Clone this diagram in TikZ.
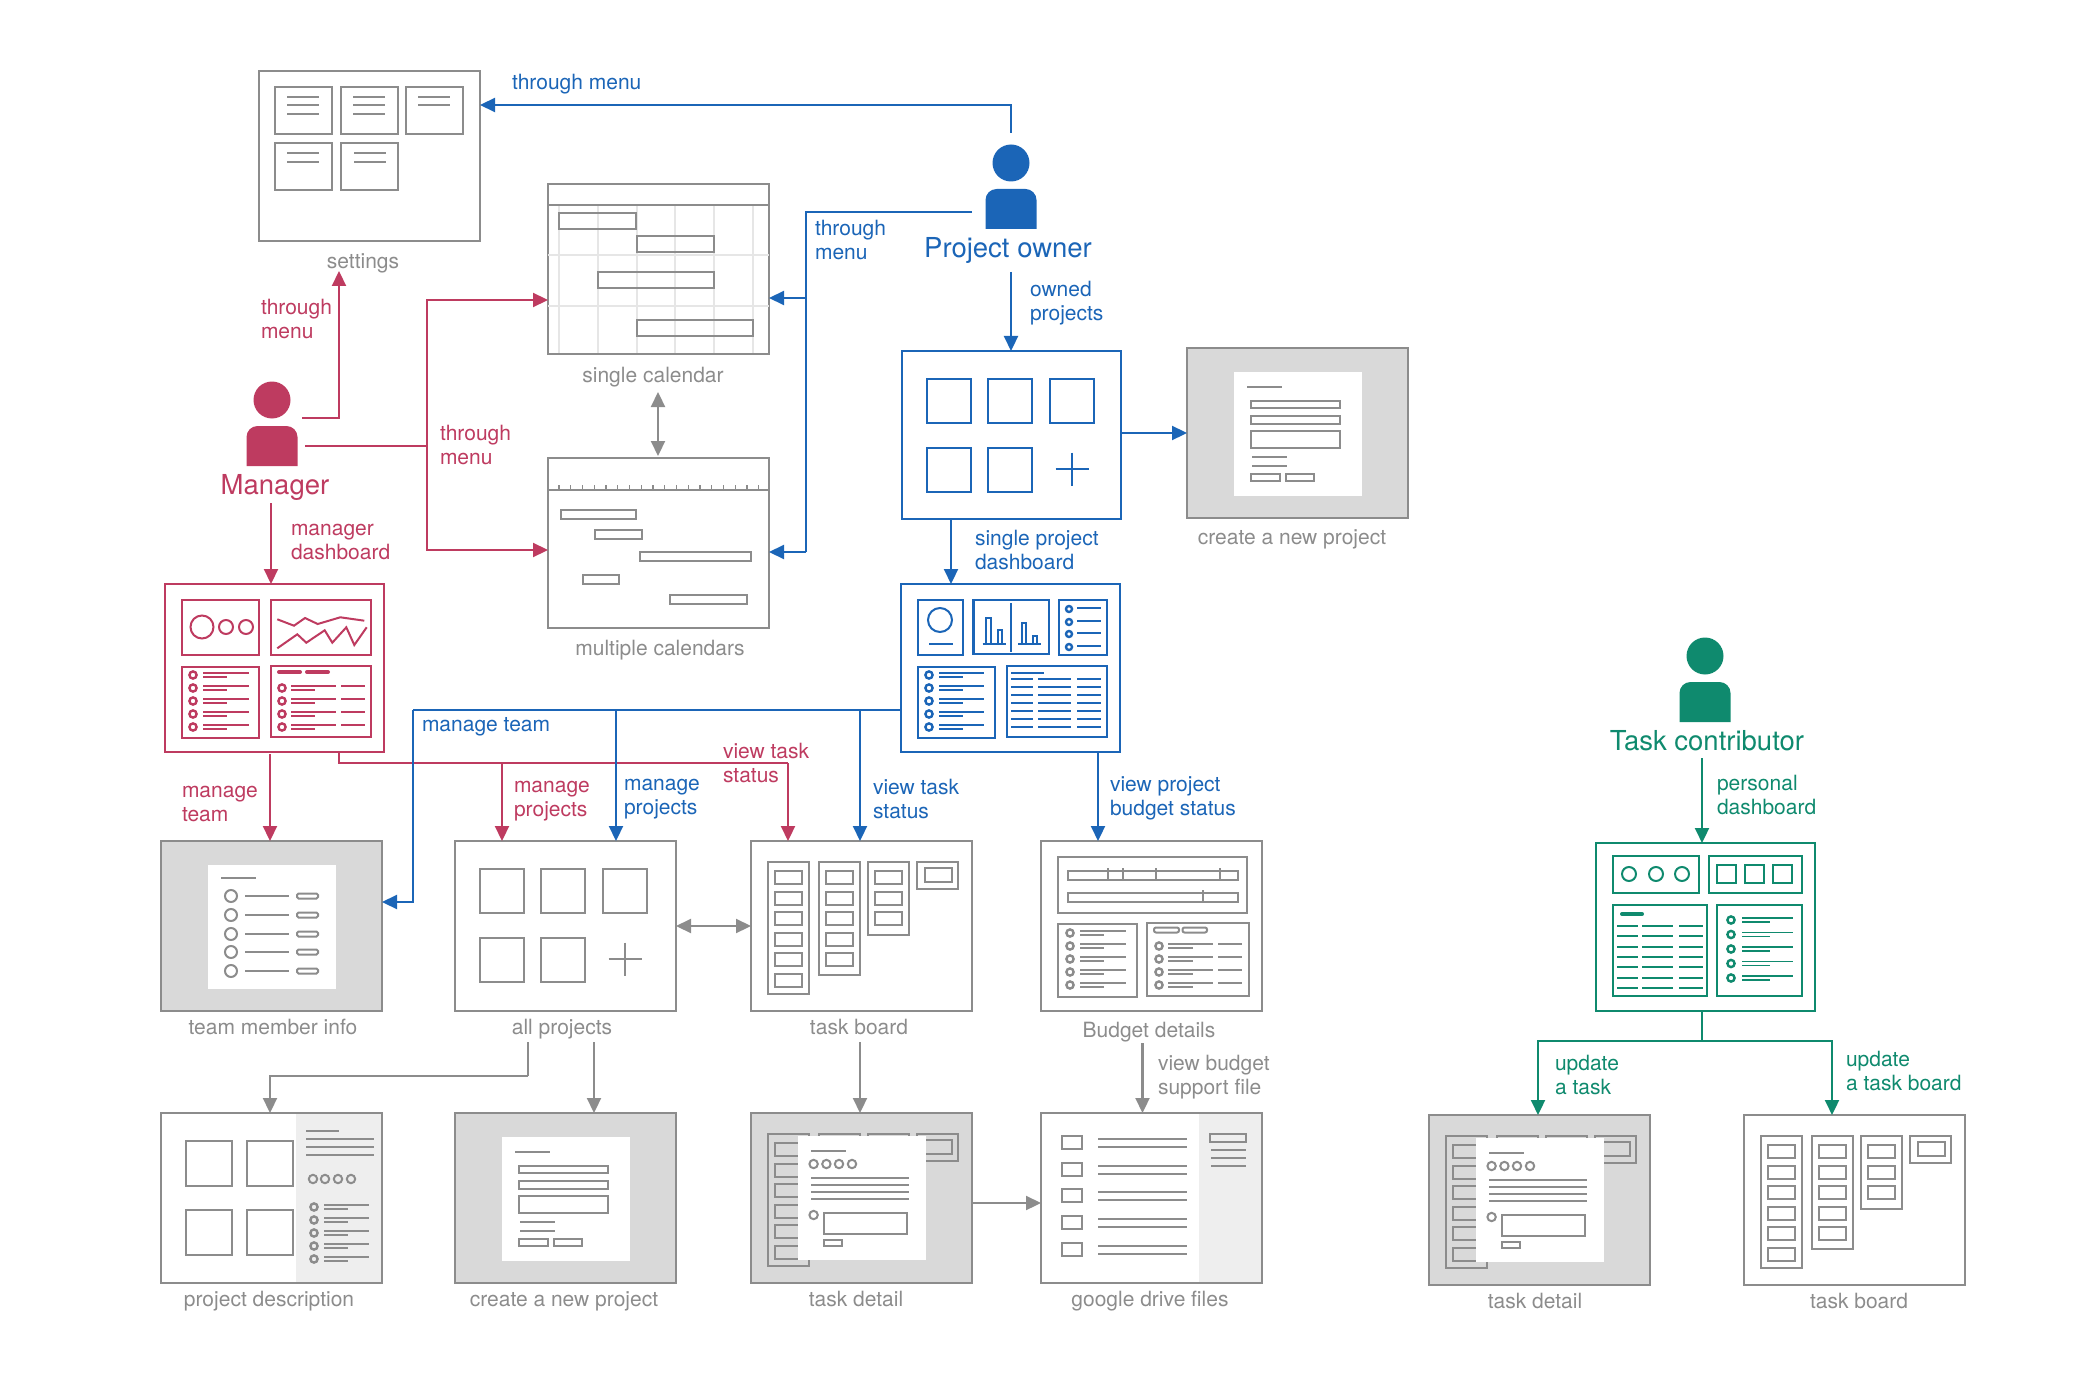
\documentclass[tikz,border=0pt]{standalone}
\usepackage{fontspec}
\setmainfont{TeX Gyre Heros}
\usetikzlibrary{arrows.meta}
\definecolor{wiregrey}{HTML}{8C8C8C}
\definecolor{panelgrey}{HTML}{D9D9D9}
\definecolor{panepale}{HTML}{EEEEEE}
\definecolor{gridgrey}{HTML}{E6E6E6}
\definecolor{mgrred}{HTML}{BE3B60}
\definecolor{ownblue}{HTML}{1B65B7}
\definecolor{congreen}{HTML}{0F8A6E}
\tikzstyle{flow}=[-{Triangle[length=15pt,width=14pt]}]
\tikzstyle{twoway}=[{Triangle[length=15pt,width=14pt]}-{Triangle[length=15pt,width=14pt]}]
\tikzstyle{mgr}=[color=mgrred,line width=2.2pt]
\tikzstyle{own}=[color=ownblue,line width=2.2pt]
\tikzstyle{con}=[color=congreen,line width=2.2pt]
\tikzstyle{wire}=[color=wiregrey,line width=2.2pt]
\tikzstyle{screen}=[draw=wiregrey,line width=2.5pt,minimum width=221pt,minimum height=170pt,inner sep=0,outer sep=0,anchor=north west]
\tikzstyle{board}=[screen,minimum width=219pt,minimum height=168pt]
\tikzstyle{caption}=[inner sep=0,anchor=base,text=wiregrey,font=\fontsize{21}{24}\selectfont]
\tikzstyle{note}=[inner sep=0,anchor=base west,align=left,font=\fontsize{21}{24}\selectfont]
\tikzstyle{role}=[inner sep=0,anchor=base,font=\fontsize{27.5}{30}\selectfont]
\newcommand{\dotrows}[5]{\foreach \r in {#2}{
\draw[line width=2.4pt] (#1,\r) circle (3.6);
\draw[line width=1.7pt] (#3,\r-2) -- (#4,\r-2);
\draw[line width=1.7pt] (#3,\r+2) -- (#5,\r+2);}}
\newcommand{\personicon}[2]{
\fill (#1,#2) circle (18.5);
\fill (#1-25.5,#2+66) [rounded corners=11pt] -- (#1-25.5,#2+26) -- (#1+25.5,#2+26) [sharp corners] -- (#1+25.5,#2+66) -- cycle;}
\newcommand{\cardgrid}[2]{\begin{scope}[shift={(#1,#2)}]
\foreach \x/\y in {25/28,86/28,148/28,25/97,86/97}
\draw (\x,\y) rectangle +(44,44);
\draw[line width=1.6pt] (153.5,118) -- (186.5,118);
\draw[line width=1.6pt] (170,101.5) -- (170,134.5);
\end{scope}}
\newcommand{\formsheet}[2]{\begin{scope}[shift={(#1,#2)}]
\fill[white] (47,24) rectangle +(128,124);
\draw (60,39) -- (95,39);
\draw (64,53) rectangle (153,60);
\draw (64,68) rectangle (153,76);
\draw (64,83) rectangle (153,100);
\draw (65,109) -- (100,109);
\draw (65,118) -- (100,118);
\draw (64,126) rectangle (93,133);
\draw (99,126) rectangle (127,133);
\end{scope}}
\newcommand{\boardicon}[2]{\begin{scope}[shift={(#1,#2)}]
\draw (17,21) rectangle (58,153);
\draw (68,21) rectangle (109,134);
\draw (117,21) rectangle (158,94);
\draw (166,21) rectangle (207,48);
\foreach \r in {0,...,5} \draw (24,{30+20.5*\r}) rectangle +(27,13);
\foreach \r in {0,...,4} \draw (75,{30+20.5*\r}) rectangle +(27,13);
\foreach \r in {0,1,2} \draw (124,{30+20.5*\r}) rectangle +(27,13);
\draw (174,27) rectangle +(27,14);
\end{scope}}
\newcommand{\detailsheet}[2]{\begin{scope}[shift={(#1,#2)}]
\fill[white] (47,23) rectangle +(128,124);
\draw (60,38) -- (95,38);
\foreach \x in {62.6,75.4,88,101} \draw (\x,51) circle (4.2);
\foreach \y in {65,72,79,86} \draw (60,\y) -- (158,\y);
\draw (62.6,102) circle (4.2);
\draw (72.6,100) rectangle (156,121);
\draw (72.6,127) rectangle (91,133);
\end{scope}}
\begin{document}
\begin{tikzpicture}[x=1pt,y=-1pt,line width=2pt]
\useasboundingbox (0,0) rectangle (2082,1396);
\fill[panepale] (296,1113) rectangle (382,1283);
\fill[panepale] (1199,1113) rectangle (1262,1283);
\node (settings) at (259,71)[screen]{};
\node (singlecal) at (548,184)[screen]{};
\node (multical) at (548,458)[screen]{};
\node (newtop) at (1187,348)[screen,fill=panelgrey]{};
\node (memberinfo) at (161,841)[screen,fill=panelgrey]{};
\node (allprojects) at (455,841)[screen]{};
\node (taskboard) at (751,841)[screen]{};
\node (budget) at (1041,841)[screen]{};
\node (description) at (161,1113)[screen]{};
\node (newbottom) at (455,1113)[screen,fill=panelgrey]{};
\node (taskdetail) at (751,1113)[screen,fill=panelgrey]{};
\node (drivefiles) at (1041,1113)[screen]{};
\node (condetail) at (1429,1115)[screen,fill=panelgrey]{};
\node (conboard) at (1744,1115)[screen]{};
\node (owned) at (902,351)[board,draw=ownblue]{};
\node (owndash) at (901,584)[board,draw=ownblue]{};
\node (mgrdash) at (165,584)[board,draw=mgrred]{};
\node (condash) at (1596,843)[board,draw=congreen]{};
\begin{scope}[color=wiregrey]
\foreach \x/\y in {275/87,341/87,406/87,275/143,341/143}
\draw (\x,\y) rectangle +(57,47);
\foreach \x in {287,353}
\foreach \y in {97,105,114}
\draw (\x,\y) -- +(32,0);
\foreach \y in {97,105}
\draw (418,\y) -- +(32,0);
\foreach \x in {287,354}
\foreach \y in {153,162}
\draw (\x,\y) -- +(32,0);
\foreach \x in {559,598,637,675,714,753}
\draw[gridgrey] (\x,205) -- (\x,353);
\foreach \y in {255,306}
\draw[gridgrey] (548,\y) -- (769,\y);
\draw (548,205) -- (769,205);
\draw (559,213) rectangle (636,229);
\draw (637,236) rectangle (714,252);
\draw (598,272) rectangle (714,288);
\draw (637,320) rectangle (753,336);
\draw (548,490) -- (769,490);
\foreach \r in {0,...,17}
\draw[line width=1.4pt] ({559+11.75*\r},485) -- +(0,5);
\draw (561,510) rectangle (636,519);
\draw (595,530) rectangle (642,539);
\draw (640,552) rectangle (751,561);
\draw (583,575) rectangle (619,584);
\draw (670,595) rectangle (747,604);
\formsheet{1187}{348}
\formsheet{455}{1113}
\fill[white] (208,865) rectangle +(128,124);
\draw (221,878) -- (256,878);
\foreach \y in {896,915,934,952,971}{
\draw (231,\y) circle (6);
\draw (245,\y) -- (289,\y);
\draw[rounded corners=1.5pt] (297,\y-2.5) rectangle (318,\y+2.5);}
\cardgrid{455}{841}
\boardicon{751}{841}
\draw (1058,857) rectangle (1247,913);
\draw (1068,871) rectangle (1238,880);
\draw (1068,893) rectangle (1238,902);
\foreach \x in {1108,1123,1156,1220}
\draw[line width=1.4pt] (\x,868) -- (\x,880);
\draw[line width=1.4pt] (1203,890) -- (1203,902);
\draw (1058,924) rectangle (1137,997);
\dotrows{1070}{933,946,959,972,985}{1080}{1126}{1104}
\draw (1147,923) rectangle (1249,996);
\draw[rounded corners=2pt] (1154,927.5) rectangle (1179,932.5);
\draw[rounded corners=2pt] (1182.5,927.5) rectangle (1207,932.5);
\dotrows{1159}{946,959,972,985}{1168}{1213}{1192.5}
\foreach \y in {944,957,970,983}
\draw[line width=1.7pt] (1218,\y) -- (1242,\y);
\foreach \x/\y in {186/1141,247/1141,186/1210,247/1210}
\draw (\x,\y) rectangle +(46,45);
\draw (306,1131) -- (339,1131);
\foreach \y in {1139,1147,1155}
\draw (306,\y) -- (374,\y);
\foreach \x in {313,325,338,351}
\draw (\x,1179) circle (4.2);
\dotrows{314}{1207,1220,1233,1246,1259}{324}{369}{348}
\boardicon{751}{1113}
\detailsheet{751}{1113}
\foreach \y in {1136,1162.7,1189,1216,1242.6}{
\draw (1062,\y) rectangle +(20,13);
\draw (1098,\y+3) -- (1187,\y+3);
\draw (1098,\y+11) -- (1187,\y+11);}
\draw (1210,1134) rectangle (1246,1142);
\foreach \y in {1150,1158,1166}
\draw (1211,\y) -- (1246,\y);
\boardicon{1429}{1115}
\detailsheet{1429}{1115}
\boardicon{1744}{1115}
\end{scope}
\begin{scope}[color=ownblue]
\cardgrid{902}{351}
\draw (918,600) rectangle (963,655);
\draw (940,620) circle (12);
\draw (929,644) -- (953,644);
\draw[line width=2.6pt] (973.6,600) rectangle (1049,654);
\draw (1011,603) -- (1011,652);
\draw (982.5,644) -- (1006,644);
\draw (1018,644) -- (1041,644);
\draw (986.4,644) rectangle (990.7,618);
\draw (998,644) rectangle (1002,630);
\draw (1022,644) rectangle (1026,623);
\draw (1032.5,644) rectangle (1037,636);
\draw (1059,600) rectangle (1107,655);
\foreach \y in {609,622,634,647}{
\draw[line width=2.4pt] (1069,\y) circle (3);
\draw[line width=1.7pt] (1077,\y-1) -- (1101,\y-1);}
\draw (918,667) rectangle (995,738);
\dotrows{929}{675,688,701,714,727}{939}{984}{963}
\draw (1007,666) rectangle (1107,737);
\draw (1011,673) -- (1044,673);
\foreach \y in {679,687,...,727}{
\draw[line width=1.7pt] (1011,\y) -- (1033,\y);
\draw[line width=1.7pt] (1038,\y) -- (1071,\y);
\draw[line width=1.7pt] (1077,\y) -- (1101,\y);}
\personicon{1011}{163}
\end{scope}
\begin{scope}[color=mgrred]
\draw (182,600) rectangle (259,655);
\draw (202,627) circle (11.5);
\draw (226,627) circle (7);
\draw (246,627) circle (7);
\draw (271,600) rectangle (371,655);
\draw (277.3,619.3) -- (294,625.7) -- (305,618) -- (317.7,624) -- (340.3,617.3) -- (364.3,620.7);
\draw (277.3,648.3) -- (297.3,634.3) -- (306.3,642.7) -- (324.7,630.3) -- (332.3,642.7) -- (346.3,627.3) -- (354.3,645) -- (366.7,627.3);
\draw (182,667) rectangle (259,738);
\dotrows{193}{675,688,701,714,727}{203}{249}{227}
\draw (271,666) rectangle (371,737);
\draw[line width=4pt,line cap=round] (279,672) -- (300,672);
\draw[line width=4pt,line cap=round] (307,672) -- (328,672);
\dotrows{282}{688,701,714,727}{291}{336}{315}
\foreach \y in {686,699,712,725}
\draw[line width=1.7pt] (341,\y) -- (365,\y);
\personicon{272}{400}
\end{scope}
\begin{scope}[color=congreen]
\draw (1613,856) rectangle (1699,893);
\foreach \x in {1629,1656,1682}
\draw (\x,874) circle (7);
\draw (1709,856) rectangle (1802,893);
\foreach \x in {1717,1745,1773}
\draw (\x,865) rectangle +(19,18);
\draw (1613,905) rectangle (1707,996);
\draw[line width=4pt,line cap=round] (1622,914) -- (1642,914);
\foreach \y in {926,936.3,946.7,957,967.3,977.7,988}{
\draw[line width=1.7pt] (1617,\y) -- (1638,\y);
\draw[line width=1.7pt] (1642,\y) -- (1673,\y);
\draw[line width=1.7pt] (1679,\y) -- (1703,\y);}
\draw (1717,905) rectangle (1802,996);
\dotrows{1731}{920,934.5,949,963.5,978}{1742}{1793}{1770}
\personicon{1705}{656}
\end{scope}
\node (settingstext) at (363,269)[caption]{settings};
\node (singletext) at (653,382)[caption]{single calendar};
\node (multitext) at (660,655)[caption]{multiple calendars};
\node (newtoptext) at (1292,544)[caption]{create a new project};
\node (membertext) at (273,1034)[caption]{team member info};
\node (alltext) at (562,1034)[caption]{all projects};
\node (boardtext) at (859,1034)[caption]{task board};
\node (budgettext) at (1149,1037)[caption]{Budget details};
\node (descrtext) at (269,1306)[caption]{project description};
\node (newbottomtext) at (564,1306)[caption]{create a new project};
\node (detailtext) at (856,1306)[caption]{task detail};
\node (drivetext) at (1150,1306)[caption]{google drive files};
\node (condetailtext) at (1535,1308)[caption]{task detail};
\node (conboardtext) at (1859,1308)[caption]{task board};
\node (manager) at (275,494)[role,text=mgrred]{Manager};
\node (owner) at (1008,258)[role,text=ownblue]{Project owner};
\node (contributor) at (1707,750)[role,text=congreen]{Task contributor};
\node (ownmenutop) at (511,90)[note,text=ownblue]{through menu};
\node (ownmenuside) at (814,260)[note,text=ownblue]{through\\menu};
\node (ownedtext) at (1029,321)[note,text=ownblue]{owned\\projects};
\node (spdash) at (974,569)[note,text=ownblue]{single project\\dashboard};
\node (ownteam) at (421,731)[note,text=ownblue]{manage team};
\node (ownprojects) at (623,814)[note,text=ownblue]{manage\\projects};
\node (ownstatus) at (872,818)[note,text=ownblue]{view task\\status};
\node (ownbudget) at (1109,815)[note,text=ownblue]{view project\\budget status};
\node (mgrmenutop) at (260,338)[note,text=mgrred]{through\\menu};
\node (mgrmenuside) at (439,464)[note,text=mgrred]{through\\menu};
\node (mgrdashtext) at (290,559)[note,text=mgrred]{manager\\dashboard};
\node (mgrteam) at (181,821)[note,text=mgrred]{manage\\team};
\node (mgrprojects) at (513,816)[note,text=mgrred]{manage\\projects};
\node (mgrstatus) at (722,782)[note,text=mgrred]{view task\\status};
\node (condashtext) at (1716,814)[note,text=congreen]{personal\\dashboard};
\node (contask) at (1554,1094)[note,text=congreen]{update\\a task};
\node (contaskboard) at (1845,1090)[note,text=congreen]{update\\a task board};
\node (supportfile) at (1157,1094)[note,text=wiregrey]{view budget\\support file};
\coordinate (mgrtop) at (302,418);
\coordinate (mgrup) at (339,271);
\coordinate (mgrside) at (305,446);
\coordinate (mgrtrunk) at (427,446);
\coordinate (mgrcal) at (548,300);
\coordinate (mgrmulti) at (548,550);
\coordinate (mgrdown) at (271,503);
\coordinate (mgrteamout) at (270,754);
\coordinate (mgrrail) at (339,763);
\coordinate (mgrprojdrop) at (502,763);
\coordinate (mgrtaskdrop) at (788,763);
\coordinate (ownleft) at (972,212);
\coordinate (owntrunk) at (806,212);
\coordinate (owncal) at (769,298);
\coordinate (ownmulti) at (769,552);
\coordinate (ownjoin) at (806,298);
\coordinate (ownmultijoin) at (806,552);
\coordinate (ownup) at (1011,133);
\coordinate (owndown) at (1011,272);
\coordinate (ownspout) at (951,519);
\coordinate (ownrail) at (413,710);
\coordinate (ownmember) at (382,902);
\coordinate (ownprojdrop) at (616,710);
\coordinate (owntaskdrop) at (860,710);
\coordinate (ownbudgetout) at (1098,752);
\coordinate (settingsin) at (480,105);
\coordinate (caltop) at (658,392);
\coordinate (calbottom) at (658,456);
\coordinate (allleft) at (528,1042);
\coordinate (allbend) at (528,1076);
\coordinate (descrin) at (270,1113);
\coordinate (allright) at (594,1042);
\coordinate (boardout) at (860,1042);
\coordinate (budgetout) at (1142.5,1043);
\coordinate (detailout) at (972,1203);
\coordinate (condown) at (1702,758);
\coordinate (conjoin) at (1702,1011);
\coordinate (conrail) at (1702,1041);
\coordinate (condetailin) at (1538,1115);
\coordinate (conboardin) at (1832,1115);
\draw[mgr,flow] (mgrtop) -| (mgrup);
\draw[mgr] (mgrside) -- (mgrtrunk);
\draw[mgr,flow] (mgrtrunk) |- (mgrcal);
\draw[mgr,flow] (mgrtrunk) |- (mgrmulti);
\draw[mgr,flow] (mgrdown) -- (mgrdown |- mgrdash.north);
\draw[mgr,flow] (mgrteamout) -- (mgrteamout |- memberinfo.north);
\draw[mgr] (mgrrail |- mgrdash.south) -- (mgrrail) -- (mgrtaskdrop);
\draw[mgr,flow] (mgrprojdrop) -- (mgrprojdrop |- allprojects.north);
\draw[mgr,flow] (mgrtaskdrop) -- (mgrtaskdrop |- taskboard.north);
\draw[own,flow] (ownup) |- (settingsin);
\draw[own] (ownleft) -- (owntrunk) -- (ownmultijoin);
\draw[own,flow] (ownjoin) -- (owncal);
\draw[own,flow] (ownmultijoin) -- (ownmulti);
\draw[own,flow] (owndown) -- (owndown |- owned.north);
\draw[own,flow] (owned.east |- newtop.west) -- (newtop.west);
\draw[own,flow] (ownspout) -- (ownspout |- owndash.north);
\draw[own] (owndash.west |- ownrail) -- (ownrail);
\draw[own,flow] (ownrail) |- (ownmember);
\draw[own,flow] (ownprojdrop) -- (ownprojdrop |- allprojects.north);
\draw[own,flow] (owntaskdrop) -- (owntaskdrop |- taskboard.north);
\draw[own,flow] (ownbudgetout) -- (ownbudgetout |- budget.north);
\draw[wire,twoway] (caltop) -- (calbottom);
\draw[wire,twoway] (allprojects.east) -- (taskboard.west);
\draw[wire] (allleft) -- (allbend);
\draw[wire,flow] (allbend) -| (descrin);
\draw[wire,flow] (allright) -- (allright |- newbottom.north);
\draw[wire,flow] (boardout) -- (boardout |- taskdetail.north);
\draw[wire,flow] (budgetout) -- (budgetout |- drivefiles.north);
\draw[wire,flow] (detailout) -- (detailout -| drivefiles.west);
\draw[con,flow] (condown) -- (condown |- condash.north);
\draw[con] (conjoin) -- (conrail);
\draw[con,flow] (conrail) -| (condetailin);
\draw[con,flow] (conrail) -| (conboardin);
\end{tikzpicture}
\end{document}
